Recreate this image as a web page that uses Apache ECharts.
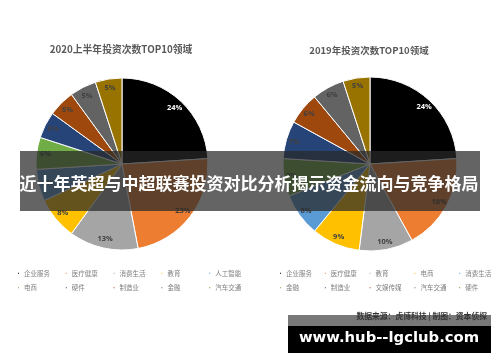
<!DOCTYPE html>
<html>
<head>
<meta charset="utf-8">
<script src="https://cdn.jsdelivr.net/npm/echarts@6/dist/echarts.min.js"></script>
<style>
html,body{margin:0;padding:0;background:#fff;}
#c{width:500px;height:362px;}
</style>
</head>
<body>
<div id="c"></div>
<script>
const colors = ['#000000','#ED7D31','#A5A5A5','#FFC000','#5B9BD5','#70AD47','#264478','#9E480E','#636363','#997300'];
const title2020 = '2020上半年投资次数TOP10领域';
const title2019 = '2019年投资次数TOP10领域';
const names2020 = ['企业服务','医疗健康','消费生活','教育','人工智能','电商','硬件','制造业','金融','汽车交通'];
const values2020 = [24,23,13,8,6,6,5,5,5,5];
const names2019 = ['企业服务','医疗健康','教育','电商','消费生活','金融','制造业','文娱传媒','汽车交通','硬件'];
const values2019 = [24,18,10,9,8,7,7,6,6,5];
const bannerText = '近十年英超与中超联赛投资对比分析揭示资金流向与竞争格局';
const sourceText = '数据来源：虎博科技 | 制图：资本侦探';
const siteText = 'www.hub--lgclub.com';

function mkData(names, values, transparent) {
  return names.map((n, i) => ({name: n, value: values[i],
    itemStyle: {color: transparent ? 'rgba(0,0,0,0)' : colors[i]},
    label: {color: i === 0 ? '#ffffff' : '#404040'}}));
}
function mkLegends(names, x0, step, y0) {
  return names.map((n, i) => ({
    left: x0 + (i % 5) * step, top: y0 + Math.floor(i / 5) * 14.5, orient: 'horizontal', padding: 0,
    itemWidth: 3, itemHeight: 3, icon: 'rect', selectedMode: false,
    itemStyle: {color: colors[i]},
    data: [n],
    textStyle: {fontSize: 6.5, color: '#7f7f7f', fontFamily: 'Noto Sans CJK SC', padding: [0,0,0,-1]}
  }));
}
const labelStyle = {show: true, position: 'inside', formatter: '{c}%', fontSize: 7.5, fontWeight: 'bold', fontFamily: 'Open Sans'};

const chart = echarts.init(document.getElementById('c'), null, {renderer: 'canvas'});
chart.setOption({
  animation: false,
  title: [
    {text: title2020, left: 121, top: 44, textAlign: 'center', padding: 0,
     textStyle: {fontSize: 9.8, fontWeight: 'bold', color: '#595959', fontFamily: 'Noto Sans CJK SC'}},
    {text: title2019, left: 369, top: 46, textAlign: 'center', padding: 0,
     textStyle: {fontSize: 9.5, fontWeight: 'bold', color: '#595959', fontFamily: 'Noto Sans CJK SC'}}
  ],
  legend: mkLegends(names2020, 16, 47.8, 270).concat(mkLegends(names2019, 278, 44.8, 270)),
  series: [
    {type: 'pie', center: [122, 164], radius: [0, 86], startAngle: 90, clockwise: true, silent: true,
     itemStyle: {borderColor: '#ffffff', borderWidth: 1}, label: {show: false}, labelLine: {show: false},
     data: mkData(names2020, values2020, false)},
    {type: 'pie', center: [122, 164], radius: [62, 86], startAngle: 90, clockwise: true, silent: true,
     itemStyle: {borderWidth: 0}, label: labelStyle, labelLine: {show: false},
     data: mkData(names2020, values2020, true)},
    {type: 'pie', center: [370, 164], radius: [0, 87], startAngle: 90, clockwise: true, silent: true,
     itemStyle: {borderColor: '#ffffff', borderWidth: 1}, label: {show: false}, labelLine: {show: false},
     data: mkData(names2019, values2019, false)},
    {type: 'pie', center: [370, 164], radius: [64, 88], startAngle: 90, clockwise: true, silent: true,
     itemStyle: {borderWidth: 0}, label: labelStyle, labelLine: {show: false},
     data: mkData(names2019, values2019, true)}
  ],
  graphic: [
    {type: 'rect', z: 100, shape: {x: 20, y: 151, width: 460, height: 60}, style: {fill: 'rgba(40,40,40,0.72)'}},
    {type: 'text', z: 101, x: 249, y: 184, style: {text: bannerText, fill: '#ffffff', textAlign: 'center', textVerticalAlign: 'middle',
      font: 'bold 17px "Noto Sans CJK SC"'}},
    {type: 'rect', z: 100, shape: {x: 288, y: 315, width: 203, height: 11}, style: {fill: '#787878'}},
    {type: 'text', z: 101, x: 487, y: 316.5, style: {text: sourceText, fill: '#333333', textAlign: 'right', textVerticalAlign: 'middle',
      font: 'bold 7.8px "Noto Sans CJK SC"'}},
    {type: 'rect', z: 100, shape: {x: 288, y: 326, width: 203, height: 27}, style: {fill: '#000000'}},
    {type: 'text', z: 101, x: 389, y: 338.5, style: {text: siteText, fill: '#ffffff', textAlign: 'center', textVerticalAlign: 'middle',
      font: 'bold 14.8px "DejaVu Sans"'}}
  ]
});
</script>
</body>
</html>
